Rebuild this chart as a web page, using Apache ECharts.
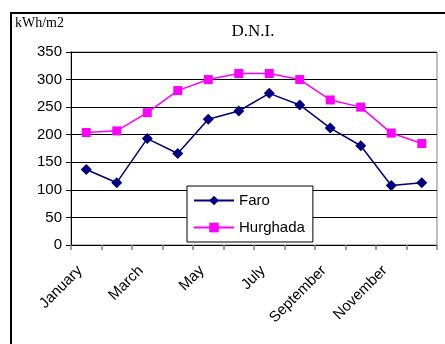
<!DOCTYPE html>
<html>
<head>
<meta charset="utf-8">
<script src="https://cdn.jsdelivr.net/npm/echarts@6/dist/echarts.min.js"></script>
<style>
  html, body { margin: 0; padding: 0; background: #fff; }
  #chart { width: 445px; height: 344px; }
</style>
</head>
<body>
<div id="chart"></div>
<script>
// Monthly direct normal irradiation (kWh/m2)
const months = ['January', 'February', 'March', 'April', 'May', 'June',
                'July', 'August', 'September', 'October', 'November', 'December'];
const faro = [137, 113, 193, 166, 228, 243, 275, 254, 212, 180, 108, 113];
const hurghada = [204, 207, 240, 280, 300, 311, 311, 300, 263, 250, 203, 184];
const yTicks = { min: 0, max: 350, interval: 50 };

const chart = echarts.init(document.getElementById('chart'), null, { renderer: 'canvas' });

chart.setOption({
  animation: false,
  backgroundColor: '#fff',
  graphic: [
    {
      type: 'rect',
      shape: { x: 11, y: 13, width: 450, height: 350 },
      style: { fill: 'none', stroke: '#000', lineWidth: 2 },
      silent: true
    },
    {
      type: 'text',
      left: 15, top: 16,
      style: { text: 'kWh/m2', font: '14px "Liberation Serif", "Times New Roman", serif', fill: '#000' }
    }
  ],
  title: {
    text: 'D.N.I.',
    left: 248, top: 18,
    textAlign: 'center',
    textStyle: { fontFamily: '"Liberation Serif", "Times New Roman", serif', fontSize: 17, fontWeight: 'normal', color: '#000' }
  },
  legend: {
    orient: 'vertical',
    left: 187, top: 186,
    width: 123,
    padding: [6, 8, 6, 6],
    itemGap: 10,
    itemWidth: 40, itemHeight: 12,
    backgroundColor: '#fff',
    borderColor: '#000', borderWidth: 1,
    textStyle: { fontFamily: '"Liberation Sans", Arial, sans-serif', fontSize: 15, color: '#000', lineHeight: 17 },
    data: ['Faro', 'Hurghada']
  },
  grid: {
    left: 71, right: 8, top: 52, bottom: 99,
    show: true, borderColor: '#808080', borderWidth: 1
  },
  xAxis: {
    type: 'category',
    data: months,
    boundaryGap: true,
    axisLine: { lineStyle: { color: '#000', width: 1 } },
    axisTick: { show: true, inside: false, length: 5, interval: 0, lineStyle: { color: '#808080', width: 1.5 } },
    axisLabel: {
      interval: 1, rotate: 45, margin: 17,
      padding: [0, 9, 0, 0],
      fontFamily: '"Liberation Sans", Arial, sans-serif', fontSize: 15, color: '#000'
    },
    splitLine: { show: false }
  },
  yAxis: {
    type: 'value',
    min: yTicks.min, max: yTicks.max, interval: yTicks.interval,
    axisLine: { show: true, lineStyle: { color: '#000', width: 1 } },
    axisTick: { show: true, length: 5, lineStyle: { color: '#000' } },
    axisLabel: { margin: 9, fontFamily: '"Liberation Sans", Arial, sans-serif', fontSize: 15, color: '#000' },
    splitLine: { show: true, lineStyle: { color: '#000', width: 1 } }
  },
  series: [
    {
      name: 'Faro',
      type: 'line',
      data: faro,
      symbol: 'diamond', symbolSize: 11,
      itemStyle: { color: '#000080' },
      lineStyle: { color: '#000080', width: 1.5 },
      z: 3
    },
    {
      name: 'Hurghada',
      type: 'line',
      data: hurghada,
      symbol: 'rect', symbolSize: 9,
      itemStyle: { color: '#ff00ff' },
      lineStyle: { color: '#ff00ff', width: 1.5 },
      z: 2
    }
  ]
});
</script>
</body>
</html>
